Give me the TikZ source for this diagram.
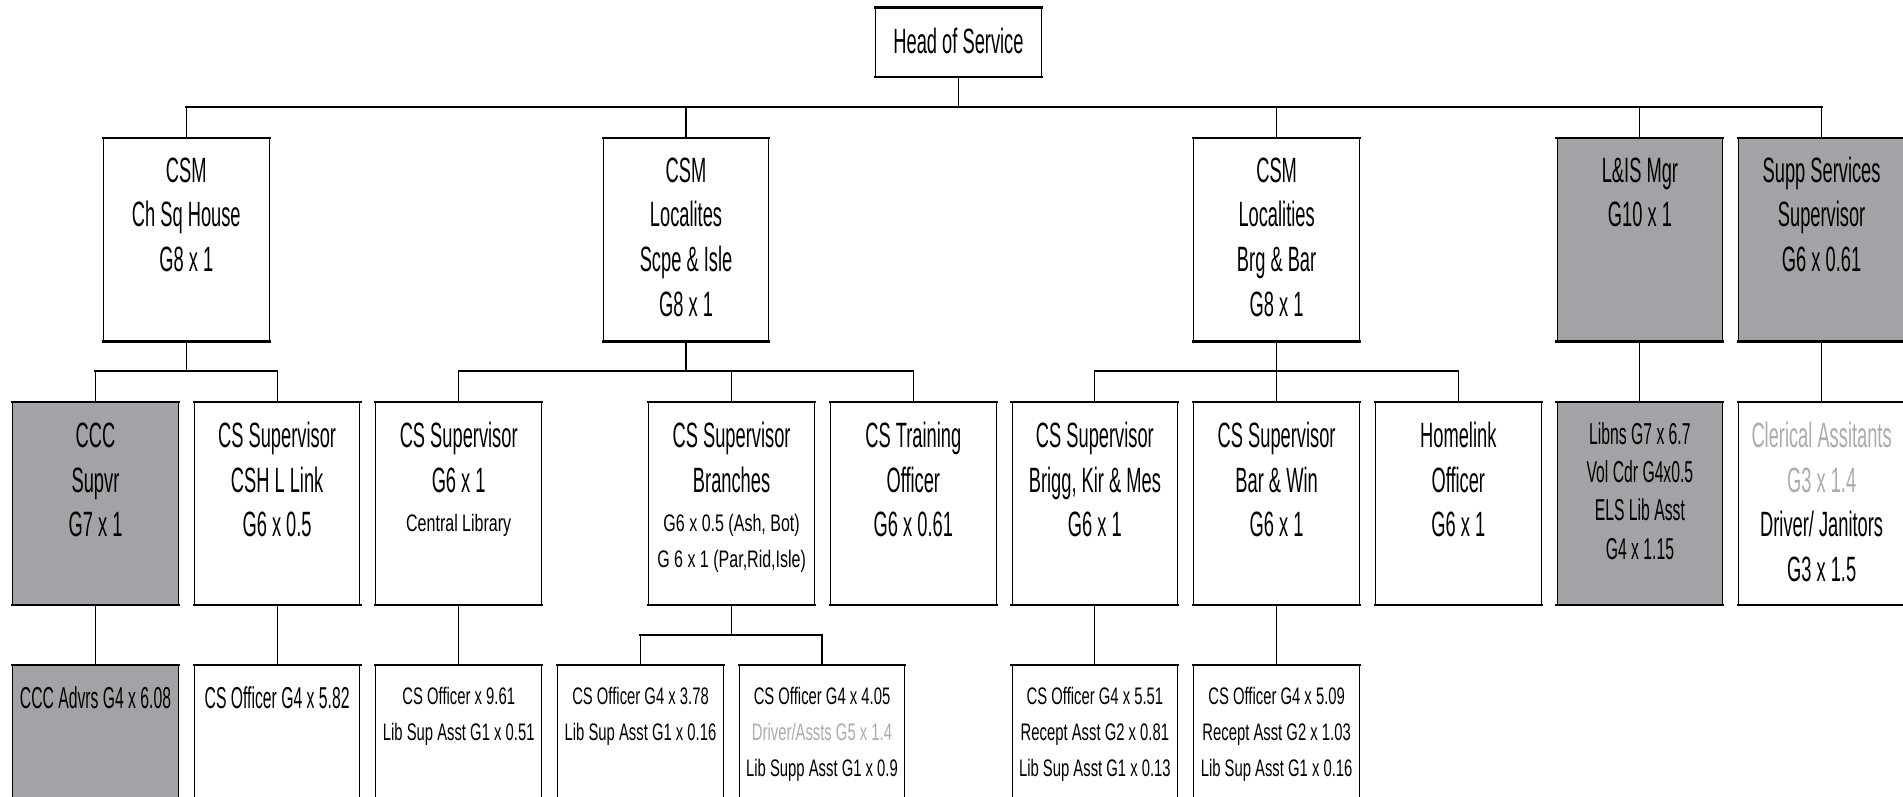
\documentclass[tikz,border=0pt]{standalone}
\usepackage{fontspec}
\setmainfont[FakeStretch=0.52]{Liberation Sans}
\newfontfamily\narrowsmall[FakeStretch=0.67]{Liberation Sans}
\newfontfamily\narrowlow[FakeStretch=0.62]{Liberation Sans}
\newcommand{\bigfs}{\fontsize{10}{12.75}\selectfont}
\newcommand{\midfs}{\fontsize{8.6}{10.9}\selectfont}
\newcommand{\smallfs}{\narrowsmall\fontsize{6.8}{10.5}\selectfont}
\newcommand{\lowfs}{\narrowlow\fontsize{6.8}{10.2}\selectfont}
% box body: height, first baseline, text
\newcommand{\boxbody}[3]{\parbox[c][#1][t]{1.655cm}{\centering\rule{0pt}{#2}#3}}

\begin{document}
\begin{tikzpicture}[x=0.01cm,y=-0.01cm,
  staffbox/.style={draw,line width=0.3pt,inner sep=0pt,anchor=north,fill=white},
  greybox/.style={staffbox,fill=boxGrey},
  edge/.style={line width=0.65pt,line cap=rect},
  bus/.style={line width=0.65pt,line cap=rect},
  link/.style={line width=0.3pt}]
  \definecolor{boxGrey}{RGB}{163,163,167}
  \definecolor{textGrey}{RGB}{172,172,172}

  \useasboundingbox (0,0) rectangle (1903,797);
  \clip (0,0) rectangle (1903,797);

  % top
  \node[staffbox] (head) at (958.5,7.5) {\boxbody{0.685cm}{13pt}{\bigfs Head of Service}};

  % managers
  \node[staffbox] (csmA) at (186.3,138.3) {\boxbody{2.02cm}{12.3pt}{\bigfs CSM\\Ch Sq House\\G8 x 1}};
  \node[staffbox] (csmB) at (686,138.3) {\boxbody{2.02cm}{12.3pt}{\bigfs CSM\\Localites\\Scpe \& Isle\\G8 x 1}};
  \node[staffbox] (csmC) at (1276.6,138.3) {\boxbody{2.02cm}{12.3pt}{\bigfs CSM\\Localities\\Brg \& Bar\\G8 x 1}};
  \node[greybox] (lis) at (1639.9,138.3) {\boxbody{2.02cm}{12.3pt}{\bigfs L\&IS Mgr\\G10 x 1}};
  \node[greybox] (supp) at (1821.6,138.3) {\boxbody{2.02cm}{12.3pt}{\bigfs Supp Services\\Supervisor\\G6 x 0.61}};

  % supervisors
  \node[greybox] (ccc) at (95.5,402) {\boxbody{2.02cm}{12.7pt}{\bigfs CCC\\Supvr\\G7 x 1}};
  \node[staffbox] (cshSup) at (277.1,402) {\boxbody{2.02cm}{12.7pt}{\bigfs CS Supervisor\\CSH L Link\\G6 x 0.5}};
  \node[staffbox] (cenSup) at (458.7,402) {\boxbody{2.02cm}{12.7pt}{\bigfs CS Supervisor\\G6 x 1\\[0.6pt]\smallfs Central Library}};
  \node[staffbox] (brSup) at (731.6,402) {\boxbody{2.02cm}{12.7pt}{\bigfs CS Supervisor\\Branches\\[0.6pt]\smallfs G6 x 0.5 (Ash, Bot)\\G 6 x 1 (Par,Rid,Isle)}};
  \node[staffbox] (trainOff) at (913.3,402) {\boxbody{2.02cm}{12.7pt}{\bigfs CS Training\\Officer\\G6 x 0.61}};
  \node[staffbox] (briggSup) at (1094.9,402) {\boxbody{2.02cm}{12.7pt}{\bigfs CS Supervisor\\Brigg, Kir \& Mes\\G6 x 1}};
  \node[staffbox] (barSup) at (1276.6,402) {\boxbody{2.02cm}{12.7pt}{\bigfs CS Supervisor\\Bar \& Win\\G6 x 1}};
  \node[staffbox] (homelink) at (1458.3,402) {\boxbody{2.02cm}{12.7pt}{\bigfs Homelink\\Officer\\G6 x 1}};
  \node[greybox] (libns) at (1639.9,402) {\boxbody{2.02cm}{11.8pt}{\midfs Libns G7 x 6.7\\Vol Cdr G4x0.5\\ELS Lib Asst\\G4 x 1.15}};
  \node[staffbox] (clerical) at (1821.6,402) {\boxbody{2.02cm}{12.7pt}{\bigfs {\color{textGrey}Clerical Assitants}\\{\color{textGrey}G3 x 1.4}\\Driver/ Janitors\\G3 x 1.5}};

  % officers
  \node[greybox] (cccAdv) at (95.5,665) {\boxbody{2.02cm}{12.3pt}{\midfs CCC Advrs G4 x 6.08}};
  \node[staffbox] (cshOff) at (277.1,665) {\boxbody{2.02cm}{12.3pt}{\midfs CS Officer G4 x 5.82}};
  \node[staffbox] (cenOff) at (458.7,665) {\boxbody{2.02cm}{11.1pt}{\lowfs CS Officer x 9.61\\Lib Sup Asst G1 x 0.51}};
  \node[staffbox] (brOffA) at (640.5,665) {\boxbody{2.02cm}{11.1pt}{\lowfs CS Officer G4 x 3.78\\Lib Sup Asst G1 x 0.16}};
  \node[staffbox] (brOffB) at (822,665) {\boxbody{2.02cm}{11.1pt}{\lowfs CS Officer G4 x 4.05\\{\color{textGrey}Driver/Assts G5 x 1.4}\\Lib Supp Asst G1 x 0.9}};
  \node[staffbox] (briggOff) at (1094.9,665) {\boxbody{2.02cm}{11.1pt}{\lowfs CS Officer G4 x 5.51\\Recept Asst G2 x 0.81\\Lib Sup Asst G1 x 0.13}};
  \node[staffbox] (barOff) at (1276.6,665) {\boxbody{2.02cm}{11.1pt}{\lowfs CS Officer G4 x 5.09\\Recept Asst G2 x 1.03\\Lib Sup Asst G1 x 0.16}};

  % heavy top and bottom edges
  \foreach \n in {head,csmA,csmB,csmC,lis,supp,ccc,cshSup,cenSup,brSup,trainOff,
      briggSup,barSup,homelink,libns,clerical,cccAdv,cshOff,cenOff,brOffA,brOffB,briggOff,barOff}
    \draw[edge] (\n.north west) -- (\n.north east) (\n.south west) -- (\n.south east);

  % bus levels
  \coordinate (busA) at (0,107.3);
  \coordinate (busB) at (0,371);
  \coordinate (busC) at (0,635);

  \draw[link] (head.south) -- (head.south |- busA);
  \draw[bus] (csmA.north |- busA) -- (supp.north |- busA);
  \foreach \n in {csmA,csmB,csmC,lis,supp}
    \draw[link] (\n.north) -- (\n.north |- busA);

  \draw[link] (csmA.south) -- (csmA.south |- busB);
  \draw[bus] (ccc.north |- busB) -- (cshSup.north |- busB);
  \draw[link] (csmB.south) -- (csmB.south |- busB);
  \draw[bus] (cenSup.north |- busB) -- (trainOff.north |- busB);
  \draw[link] (csmC.south) -- (csmC.south |- busB);
  \draw[bus] (briggSup.north |- busB) -- (homelink.north |- busB);
  \foreach \n in {ccc,cshSup,cenSup,brSup,trainOff,briggSup,barSup,homelink}
    \draw[link] (\n.north) -- (\n.north |- busB);
  \draw[link] (lis.south) -- (libns.north);
  \draw[link] (supp.south) -- (clerical.north);

  \draw[link] (ccc.south) -- (cccAdv.north);
  \draw[link] (cshSup.south) -- (cshOff.north);
  \draw[link] (cenSup.south) -- (cenOff.north);
  \draw[link] (brSup.south) -- (brSup.south |- busC);
  \draw[bus] (brOffA.north |- busC) -- (brOffB.north |- busC);
  \draw[link] (brOffA.north) -- (brOffA.north |- busC);
  \draw[link] (brOffB.north) -- (brOffB.north |- busC);
  \draw[link] (briggSup.south) -- (briggOff.north);
  \draw[link] (barSup.south) -- (barOff.north);
\end{tikzpicture}
\end{document}
